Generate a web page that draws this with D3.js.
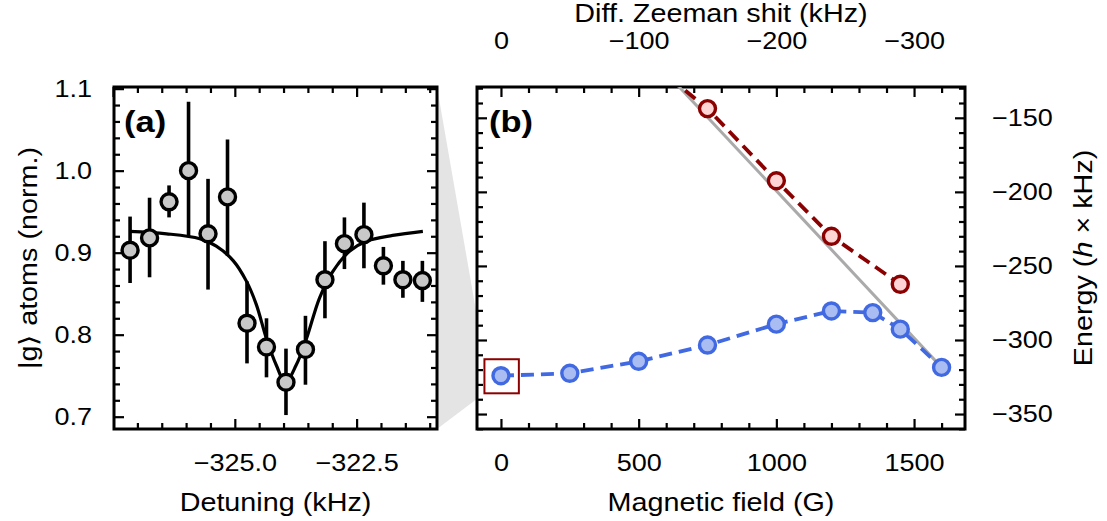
<!DOCTYPE html>
<html>
<head>
<meta charset="utf-8">
<script src="https://cdn.jsdelivr.net/npm/d3@7"></script>
<style>
body{margin:0;background:#fff}
svg{display:block}
text{font-family:"Liberation Sans",Arial,sans-serif;fill:#000}
</style>
</head>
<body>
<div id="chart"></div>
<script>
// panel (a): resonance scan
const detuning=[-327.15,-326.75,-326.35,-325.95,-325.55,-325.15,-324.75,-324.35,-323.95,-323.55,-323.15,-322.75,-322.35,-321.95,-321.55,-321.15]
const atoms=[0.903,0.918,0.962,1.000,0.923,0.968,0.814,0.785,0.742,0.782,0.867,0.911,0.922,0.884,0.867,0.866]
const atomsLow=[0.863,0.870,0.943,0.919,0.855,0.896,0.765,0.748,0.702,0.739,0.820,0.880,0.881,0.861,0.845,0.840]
const atomsHigh=[0.944,0.967,0.982,1.084,0.990,1.038,0.865,0.820,0.783,0.823,0.914,0.943,0.961,0.907,0.890,0.890]
// fitted curve
const fitDetuning=[-327.17,-326.40,-325.72,-325.38,-325.03,-324.76,-324.56,-324.35,-324.15,-323.96,-323.74,-323.53,-323.26,-322.99,-322.64,-322.30,-321.76,-321.14]
const fitAtoms=[0.926,0.923,0.917,0.908,0.890,0.865,0.837,0.795,0.763,0.742,0.763,0.795,0.845,0.877,0.902,0.914,0.921,0.926]

// panel (b): energies vs field
const fieldBlue=[0,250,500,750,1000,1200,1350,1450,1600]
const energyBlue=[-324.1,-322.5,-314.4,-303.4,-289.3,-280.4,-281.5,-292.7,-318.5]
const fieldRed=[500,750,1000,1200,1450]
const energyRed=[-106,-143.8,-192.5,-230.0,-262.4]
const fieldGrey=[600,1600]
const energyGrey=[-119.8,-318.5]
const boxField=[-60,65]
const boxEnergy=[-313,-336]

const fieldTicks=[0,500,1000,1500]
const zeemanLabels=["0","\u2212100","\u2212200","\u2212300"]
const energyTicks=[-150,-200,-250,-300,-350]
const atomTicks=[0.7,0.8,0.9,1.0,1.1]
const detuningTicks=[-325,-322.5]

const width=1107
const height=521
const A={l:114,r:437,t:87,b:429}
const B={l:477,r:965,t:87,b:429}
const SX=1.15 // the figure font runs wider than Liberation Sans

const svg=d3.select("#chart").append("svg")
.attr("width",width)
.attr("height",height)

const xA=d3.scaleLinear().domain([-327.48,-320.85]).range([A.l,A.r])
const yA=d3.scaleLinear().domain([0.685,1.102]).range([A.b,A.t])
const xB=d3.scaleLinear().domain([-87,1685]).range([B.l,B.r])
const yB=d3.scaleLinear().domain([-360.1,-129.2]).range([B.b,B.t])

function stretch(sel){
sel.each(function(){
const t=d3.select(this)
const x=+t.attr("x")||0
t.attr("x",x/SX).attr("transform","scale("+SX+",1)")
})
}

// grey zoom wedge between the panels
const wedge=[[A.r,A.t],[xB(boxField[0]),yB(boxEnergy[0])],[xB(boxField[0]),yB(boxEnergy[1])],[A.r,A.b]]
svg.append("path")
.attr("d","M"+wedge.map(p=>p.join(",")).join("L")+"Z")
.attr("fill","#e4e4e4")

svg.append("rect").attr("x",B.l).attr("y",B.t).attr("width",B.r-B.l).attr("height",B.b-B.t).attr("fill","#fff")

function axes(p,x,y,o){
const g=svg.append("g")
function put(axis,tr){
const a=g.append("g").attr("transform",tr).call(axis)
a.select(".domain").remove()
a.selectAll("line").attr("stroke","#000").attr("stroke-width",2.2)
a.selectAll("text").style("font-size","23.5px").call(stretch)
return a
}
put(d3.axisBottom(x).tickValues(o.xMajor).tickSize(-10).tickPadding(25).tickFormat(o.xFmt),"translate(0,"+p.b+")")
put(d3.axisBottom(x).tickValues(o.xMinor).tickSize(-6).tickFormat(""),"translate(0,"+p.b+")")
put(d3.axisTop(x).tickValues(o.xMajor.concat(o.xExtra||[])).tickSize(-10).tickPadding(38).tickFormat(o.topFmt||""),"translate(0,"+p.t+")")
put(d3.axisTop(x).tickValues(o.xMinor).tickSize(-6).tickFormat(""),"translate(0,"+p.t+")")
put(d3.axisLeft(y).tickValues(o.yMajor).tickSize(-10).tickPadding(22).tickFormat(o.leftFmt||""),"translate("+p.l+",0)")
put(d3.axisLeft(y).tickValues(o.yMinor).tickSize(-6).tickFormat(""),"translate("+p.l+",0)")
put(d3.axisRight(y).tickValues(o.yMajor).tickSize(-10).tickPadding(27).tickFormat(o.rightFmt||""),"translate("+p.r+",0)")
put(d3.axisRight(y).tickValues(o.yMinor).tickSize(-6).tickFormat(""),"translate("+p.r+",0)")
g.append("rect").attr("x",p.l).attr("y",p.t).attr("width",p.r-p.l).attr("height",p.b-p.t)
.attr("fill","none").attr("stroke","#000").attr("stroke-width",3)
}

axes(A,xA,yA,{
xMajor:detuningTicks,
xExtra:[-327.5],
xMinor:d3.range(-327,-320.8,0.5).filter(v=>Math.abs(v%2.5)>0.01),
xFmt:d3.format(".1f"),
yMajor:atomTicks,
yMinor:d3.range(0.72,1.1,0.02).filter(v=>Math.abs(Math.round(v*10)-v*10)>0.01),
leftFmt:d3.format(".1f")
})

axes(B,xB,yB,{
xMajor:fieldTicks,
xMinor:d3.range(100,1700,100).filter(v=>v%500!=0),
xFmt:d3.format("d"),
topFmt:(d,i)=>zeemanLabels[i],
yMajor:energyTicks,
yMinor:d3.range(-360,-129,10).filter(v=>v%50!=0),
rightFmt:d3.format("d")
})

// panel (a) data
const ga=svg.append("g")
ga.append("path")
.datum(fitDetuning.map((d,i)=>[d,fitAtoms[i]]))
.attr("d",d3.line().x(d=>xA(d[0])).y(d=>yA(d[1])).curve(d3.curveCatmullRom))
.attr("fill","none").attr("stroke","#000").attr("stroke-width",3.2)

ga.selectAll(".err").data(detuning).enter().append("line")
.attr("x1",d=>xA(d)).attr("x2",d=>xA(d))
.attr("y1",(d,i)=>yA(atomsLow[i])).attr("y2",(d,i)=>yA(atomsHigh[i]))
.attr("stroke","#000").attr("stroke-width",3.6)

ga.selectAll(".pt").data(detuning).enter().append("circle")
.attr("cx",d=>xA(d)).attr("cy",(d,i)=>yA(atoms[i]))
.attr("r",8).attr("fill","#c8c8c8").attr("stroke","#000").attr("stroke-width",3.4)

// panel (b) data
svg.append("clipPath").attr("id","clipB").append("rect")
.attr("x",B.l).attr("y",B.t).attr("width",B.r-B.l).attr("height",B.b-B.t)
const gb=svg.append("g").attr("clip-path","url(#clipB)")
const lineB=d3.line().x(d=>xB(d[0])).y(d=>yB(d[1]))

gb.append("path")
.datum(fieldGrey.map((d,i)=>[d,energyGrey[i]]))
.attr("d",lineB)
.attr("fill","none").attr("stroke","#aaaaaa").attr("stroke-width",3)

function series(f,e,stroke,fill){
gb.append("path")
.datum(f.map((d,i)=>[d,e[i]]))
.attr("d",lineB)
.attr("fill","none").attr("stroke",stroke).attr("stroke-width",3.8).attr("stroke-dasharray","13,7")
gb.selectAll(null).data(f).enter().append("circle")
.attr("cx",d=>xB(d)).attr("cy",(d,i)=>yB(e[i]))
.attr("r",8).attr("fill",fill).attr("stroke",stroke).attr("stroke-width",3.4)
}
series(fieldRed,energyRed,"#8b0000","#ffd4d4")
series(fieldBlue,energyBlue,"#4169e1","#aabdf2")

svg.append("rect")
.attr("x",xB(boxField[0])).attr("y",yB(boxEnergy[0]))
.attr("width",xB(boxField[1])-xB(boxField[0])).attr("height",yB(boxEnergy[1])-yB(boxEnergy[0]))
.attr("fill","none").attr("stroke","#8b0000").attr("stroke-width",2)

// labels
function label(x,y,rot,size,txt,bold){
const t=svg.append("text")
.attr("transform","translate("+x+","+y+") rotate("+rot+") scale("+SX+",1)")
.attr("text-anchor",bold?"start":"middle")
.style("font-size",size+"px")
if(bold)t.style("font-weight","bold")
if(txt)t.text(txt)
return t
}
label(124,132,0,30,"(a)",true)
label(489,132,0,30,"(b)",true)
label((A.l+A.r)/2,511,0,25,"Detuning (kHz)")
label((B.l+B.r)/2,511,0,25,"Magnetic field (G)")
label((B.l+B.r)/2,22,0,25,"Diff. Zeeman shit (kHz)")
label(37,(A.t+A.b)/2,-90,25,"|g\u27E9 atoms (norm.)")
const el=label(1092,(B.t+B.b)/2,-90,25)
el.append("tspan").text("Energy (")
el.append("tspan").style("font-style","italic").text("h")
el.append("tspan").text(" \u00D7 kHz)")
</script>
</body>
</html>
